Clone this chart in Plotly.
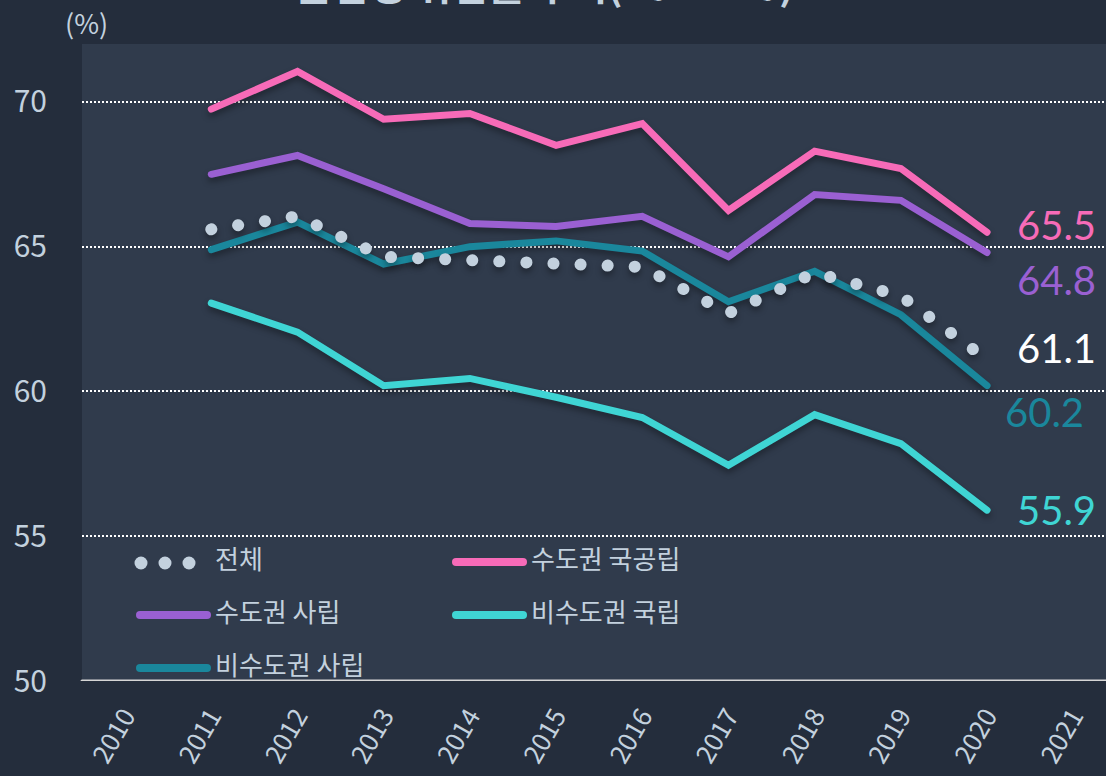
import plotly.graph_objects as go

years = [2011, 2012, 2013, 2014, 2015, 2016, 2017, 2018, 2019, 2020]
tick_years = list(range(2010, 2022))

total = [65.6, 66.05, 64.65, 64.55, 64.45, 64.3, 62.7, 64.1, 63.3, 61.1]
metro_public = [69.75, 71.05, 69.4, 69.6, 68.5, 69.25, 66.25, 68.3, 67.7, 65.5]
metro_private = [67.5, 68.15, 67.0, 65.8, 65.7, 66.05, 64.65, 66.8, 66.6, 64.8]
nonmetro_public = [63.05, 62.05, 60.2, 60.45, 59.8, 59.1, 57.45, 59.2, 58.2, 55.9]
nonmetro_private = [64.9, 65.85, 64.4, 65.0, 65.2, 64.85, 63.1, 64.15, 62.65, 60.2]

names = ["전체", "수도권 국공립", "수도권 사립", "비수도권 국립", "비수도권 사립"]
colors = ["#c3d1de", "#f76bb8", "#9a60d2", "#3fd5d4", "#1a879c"]

BG = "#242d3c"
PLOT_BG = "#303b4c"
TXT = "#c3d1de"
KFONT = "Noto Sans CJK KR"

W, H = 1106, 776
ML, MT, MB, MR = 82, 44, 95, 0
PW, PH = W - ML - MR, H - MT - MB


def px(x):
    return (x - ML) / PW


def py(y):
    return (H - MB - y) / PH


fig = go.Figure()

series = [
    (metro_public, 1),
    (metro_private, 2),
    (nonmetro_public, 3),
    (nonmetro_private, 4),
]
for vals, idx in series:
    fig.add_trace(go.Scatter(
        x=years, y=vals, name=names[idx], mode="lines",
        line=dict(color=colors[idx], width=7), showlegend=False,
    ))

fig.add_trace(go.Scatter(
    x=years, y=total, name=names[0], mode="lines",
    line=dict(color=colors[0], width=12, dash="12px,15px"), showlegend=False,
))

# end labels
end_labels = [
    (metro_public[-1], 65.75, colors[1], 2020.32),
    (metro_private[-1], 63.85, colors[2], 2020.32),
    (total[-1], 61.5, "#ffffff", 2020.32),
    (nonmetro_private[-1], 59.3, colors[4], 2020.18),
    (nonmetro_public[-1], 55.9, colors[3], 2020.32),
]
for v, ypos, c, xpos in end_labels:
    fig.add_annotation(x=xpos, y=ypos, text=f"{v:.1f}", showarrow=False,
                       xanchor="left", yanchor="middle",
                       font=dict(family="Lato", size=40, color=c))

fig.add_annotation(xref="paper", yref="paper", x=px(63), y=py(23),
                   text="(%)", showarrow=False, xanchor="left", yanchor="middle",
                   font=dict(family=KFONT, size=27, color=TXT))

fig.add_annotation(xref="paper", yref="paper", x=px(544), y=py(-17),
                   text="<b>졸업생 취업률 추이(2011-20)</b>", showarrow=False,
                   xanchor="center", yanchor="middle",
                   font=dict(family=KFONT, size=40, color=TXT))

# manual legend
shapes = [dict(type="line", xref="paper", yref="y", x0=0, x1=1, y0=50, y1=50,
               line=dict(color="#d6d6d6", width=3))]
leg_items = [
    (1, 452, 557),
    (2, 136, 610),
    (3, 452, 610),
    (4, 136, 663),
]
for idx, x0, yc in leg_items:
    shapes.append(dict(type="line", xref="paper", yref="paper",
                       x0=px(x0 + 4), x1=px(x0 + 71), y0=py(yc + 5), y1=py(yc + 5),
                       line=dict(color=colors[idx], width=8)))
    fig.add_annotation(xref="paper", yref="paper", x=px(x0 + 77), y=py(yc),
                       text=names[idx], showarrow=False, xanchor="left", yanchor="middle",
                       font=dict(family=KFONT, size=26, color=TXT))
for cx in (141, 165, 189):
    shapes.append(dict(type="circle", xref="paper", yref="paper",
                       x0=px(cx - 6.5), x1=px(cx + 6.5), y0=py(563 + 6.5), y1=py(563 - 6.5),
                       fillcolor=colors[0], line=dict(width=0)))
fig.add_annotation(xref="paper", yref="paper", x=px(213), y=py(557),
                   text=names[0], showarrow=False, xanchor="left", yanchor="middle",
                   font=dict(family=KFONT, size=26, color=TXT))

fig.update_layout(
    width=W, height=H,
    paper_bgcolor=BG, plot_bgcolor=PLOT_BG,
    margin=dict(l=ML, r=MR, t=MT, b=MB),
    showlegend=False,
    xaxis=dict(range=[2009.5, 2021.38], tickvals=tick_years,
               ticktext=[str(y) for y in tick_years], tickangle=-60,
               showgrid=False, zeroline=False, showline=False,
               ticklabelstandoff=14,
               tickfont=dict(family=KFONT, size=26, color=TXT),
               ticks=""),
    yaxis=dict(range=[50, 72], tickvals=[50, 55, 60, 65, 70],
               showgrid=True, gridcolor="#ffffff", gridwidth=2, griddash="2px,2px",
               zeroline=False, showline=False, ticks="",
               ticklabelstandoff=34,
               tickfont=dict(family=KFONT, size=30, color=TXT)),
    shapes=shapes,
)

post = """
document.body.style.margin='0';
var gd = document.getElementById('{plot_id}');
function fixStyles(){
  var tr = gd.querySelectorAll('.scatterlayer .trace');
  tr.forEach(function(t, i){
    var p = t.querySelector('path.js-line');
    if(!p) return;
    p.style.strokeLinecap = 'round';
    p.style.filter = 'drop-shadow(0px 4px 3px rgba(0,0,0,0.35))';
    if(i === tr.length - 1){ p.style.strokeDasharray = '0.1px,27px'; }
  });
  gd.querySelectorAll('.shapelayer path').forEach(function(p){ p.style.strokeLinecap = 'round'; });
}
fixStyles();
gd.on('plotly_afterplot', fixStyles);
"""

fig.write_html("out.html", config={"displayModeBar": False}, post_script=post)
